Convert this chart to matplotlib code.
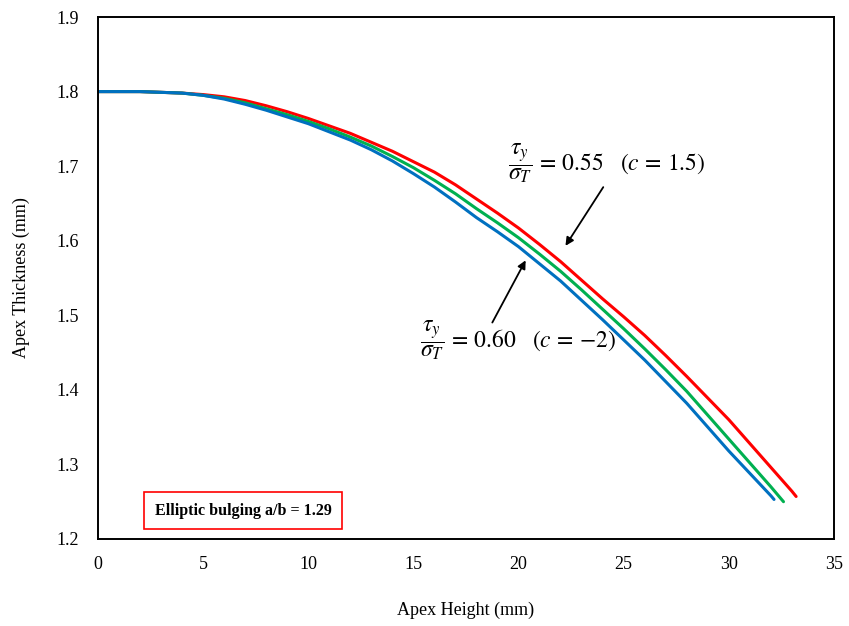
import matplotlib
matplotlib.use("Agg")
import matplotlib.pyplot as plt

# apex height (mm) / apex thickness (mm)
x_grid = [0, 1, 2, 3, 4, 5, 6, 7, 8, 9, 10, 11, 12, 13, 14, 15, 16,
          17, 18, 19, 20, 21, 22, 23, 24, 25, 26, 27, 28, 29, 30, 31, 32]
x_red = x_grid + [33, 33.2]
y_red = [1.800, 1.800, 1.800, 1.799, 1.798, 1.796, 1.793, 1.788, 1.781, 1.773,
         1.764, 1.754, 1.744, 1.732, 1.720, 1.706, 1.692, 1.675, 1.656, 1.637,
         1.617, 1.595, 1.572, 1.547, 1.522, 1.498, 1.473, 1.446, 1.418, 1.389,
         1.360, 1.328, 1.296, 1.264, 1.257]
x_green = x_grid + [32.6]
y_green = [1.800, 1.800, 1.800, 1.799, 1.798, 1.795, 1.791, 1.785, 1.777, 1.769,
           1.760, 1.750, 1.739, 1.727, 1.713, 1.698, 1.681, 1.663, 1.643, 1.624,
           1.604, 1.582, 1.559, 1.534, 1.508, 1.482, 1.455, 1.427, 1.398, 1.366,
           1.334, 1.302, 1.270, 1.250]
x_blue = x_grid + [32.15]
y_blue = [1.800, 1.800, 1.800, 1.799, 1.798, 1.795, 1.790, 1.783, 1.775, 1.766,
          1.757, 1.746, 1.735, 1.722, 1.707, 1.690, 1.672, 1.652, 1.631, 1.612,
          1.592, 1.569, 1.546, 1.520, 1.494, 1.467, 1.440, 1.411, 1.382, 1.350,
          1.318, 1.288, 1.258, 1.253]

x_ticks = [0, 5, 10, 15, 20, 25, 30, 35]
y_ticks = [1.2, 1.3, 1.4, 1.5, 1.6, 1.7, 1.8, 1.9]

plt.rcParams["font.family"] = ["Liberation Serif", "DejaVu Serif"]
plt.rcParams["mathtext.fontset"] = "stix"

fig = plt.figure(figsize=(8.49, 6.26), dpi=100)
ax = fig.add_axes([0.1154, 0.139, 0.8669, 0.8338])

ax.plot(x_red, y_red, color="#FF0000", lw=2.2, solid_capstyle="round")
ax.plot(x_green, y_green, color="#00B050", lw=2.2, solid_capstyle="round")
ax.plot(x_blue, y_blue, color="#0070C0", lw=2.2, solid_capstyle="round")

ax.set_xlim(0, 35)
ax.set_ylim(1.2, 1.9)
ax.set_xticks(x_ticks)
ax.set_yticks(y_ticks)
ax.set_xticklabels([str(v) for v in x_ticks])
ax.set_yticklabels([f"{v:.1f}" for v in y_ticks])
ax.tick_params(length=0, labelsize=13)
ax.tick_params(axis="y", pad=14)
ax.tick_params(axis="x", pad=12)
for sp in ax.spines.values():
    sp.set_linewidth(1.4)
    sp.set_color("black")

ax.set_xlabel("Apex Height (mm)", fontsize=13, labelpad=21)
ax.set_ylabel("Apex Thickness (mm)", fontsize=13, labelpad=19)

ax.text(19.5, 1.704, r"$\dfrac{\tau_y}{\sigma_T}\,=\,0.55\ \ \ (c\,=\,1.5)$",
        fontsize=17, ha="left", va="center")
ax.annotate("", xy=(22.16, 1.590), xytext=(24.1, 1.675),
            arrowprops=dict(arrowstyle="-|>", color="black", lw=1.3,
                            mutation_scale=12))
ax.text(15.3, 1.466, r"$\dfrac{\tau_y}{\sigma_T}\,=\,0.60\ \ \ (c\,=\,{-2})$",
        fontsize=17, ha="left", va="center")
ax.annotate("", xy=(20.4, 1.577), xytext=(18.69, 1.487),
            arrowprops=dict(arrowstyle="-|>", color="black", lw=1.3,
                            mutation_scale=12))

ax.text(6.9, 1.238, "Elliptic bulging a/b = 1.29", fontsize=11.5,
        fontweight="bold", ha="center", va="center",
        bbox=dict(boxstyle="square,pad=0.65", fc="white", ec="#FF0000", lw=1.2))

fig.savefig("out.png", dpi=100)
